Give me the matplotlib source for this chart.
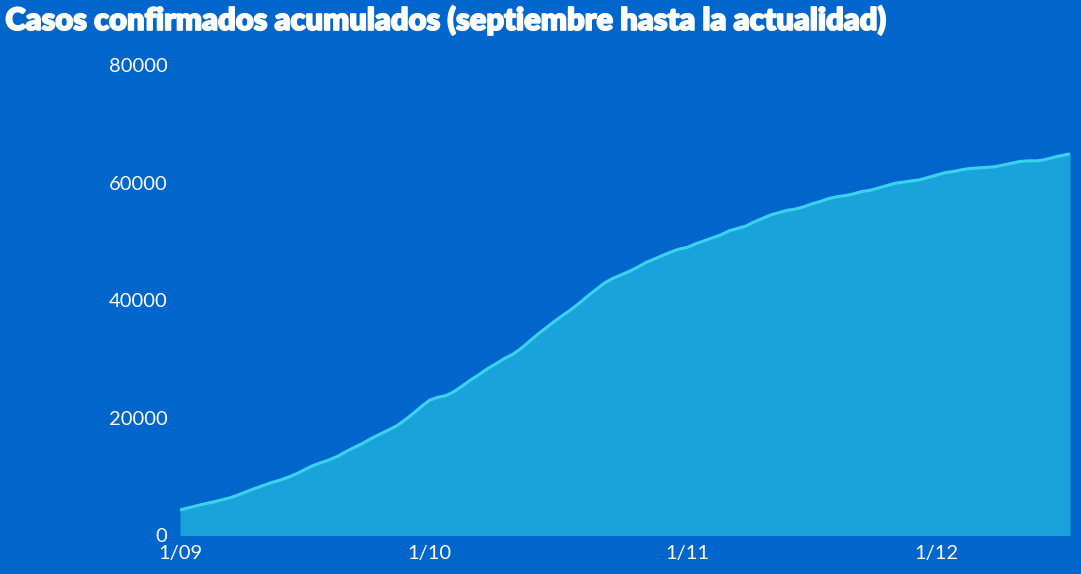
import datetime

import numpy as np
import matplotlib.pyplot as plt
import matplotlib.patheffects as pe

# cumulative confirmed cases, one value per day from 1 Sep to 17 Dec
start_date = datetime.date(2020, 9, 1)
cases = [
    4340, 4700, 5050, 5400, 5700, 6050, 6400, 6900, 7450, 8000,
    8500, 9000, 9400, 9900, 10500, 11200, 11900, 12400, 12900, 13500,
    14300, 15000, 15700, 16500, 17200, 17900, 18600, 19600, 20700, 21900,
    23000, 23500, 23800, 24500, 25500, 26500, 27400, 28400, 29200, 30100,
    30800, 31800, 33000, 34200, 35300, 36400, 37400, 38400, 39500, 40700,
    41800, 42900, 43700, 44300, 44900, 45600, 46400, 47000, 47600, 48200,
    48700, 49000, 49600, 50100, 50600, 51100, 51800, 52200, 52600, 53300,
    53900, 54500, 54900, 55300, 55500, 55900, 56400, 56800, 57300, 57600,
    57800, 58100, 58500, 58700, 59100, 59500, 59900, 60100, 60300, 60500,
    60900, 61300, 61700, 61900, 62200, 62400, 62500, 62600, 62700, 63000,
    63300, 63600, 63700, 63700, 63900, 64300, 64600, 64900,
]
tick_dates = [datetime.date(2020, m, 1) for m in (9, 10, 11, 12)]
tick_labels = ['1/09', '1/10', '1/11', '1/12']
y_ticks = [0, 20000, 40000, 60000, 80000]

bg = '#0066CC'
fill_color = '#1AA3DB'
line_color = '#3AD3EE'

days = np.arange(len(cases))
tick_pos = [(d - start_date).days for d in tick_dates]

fig = plt.figure(figsize=(10.81, 5.74), dpi=100, facecolor=bg)
ax = fig.add_axes([180 / 1081, 38.5 / 574, 890 / 1081, 470.5 / 574])
ax.set_facecolor(bg)

ax.fill_between(days, cases, 0, color=fill_color, linewidth=0)
ax.plot(days, cases, color=line_color, linewidth=2.2, solid_capstyle='butt')

ax.set_xlim(0, len(cases) - 1)
ax.set_ylim(0, 80000)
ax.set_xticks(tick_pos)
ax.set_xticklabels(tick_labels)
ax.set_yticks(y_ticks)
ax.set_yticklabels([str(v) for v in y_ticks])
ax.tick_params(length=0, colors='white', labelsize=14.5, pad=9)
ax.tick_params(axis='x', pad=7)
for lbl in ax.get_xticklabels() + ax.get_yticklabels():
    lbl.set_family('Lato')
for s in ax.spines.values():
    s.set_visible(False)

title = fig.text(0.005, 1 - 30 / 574, 'Casos confirmados acumulados (septiembre hasta la actualidad)',
                 color='white', fontsize=22.2, fontweight='heavy', family='Lato',
                 ha='left', va='baseline')
title.set_path_effects([pe.withStroke(linewidth=1.2, foreground='white')])

plt.savefig('out.png', dpi=100, facecolor=bg)
